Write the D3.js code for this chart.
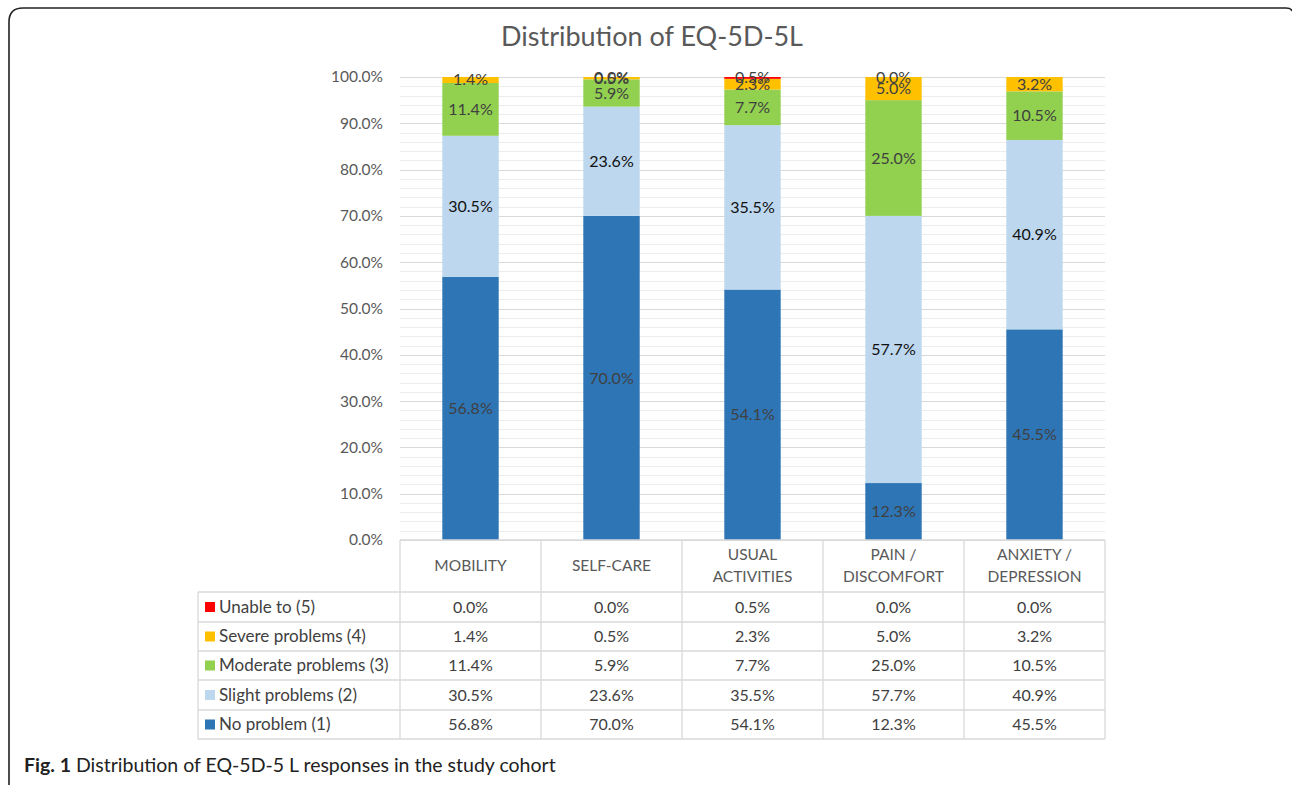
<!DOCTYPE html>
<html>
<head>
<meta charset="utf-8">
<script src="https://cdn.jsdelivr.net/npm/d3@7"></script>
<style>
  body { margin: 0; background: #fff; }
  svg { display: block; font-family: Lato, "Open Sans", sans-serif; }
</style>
</head>
<body>
<div id="chart-area"></div>
<script>
var W = 1292, H = 785;

// data (percent)
var dimensions = ["MOBILITY", "SELF-CARE", "USUAL ACTIVITIES", "PAIN / DISCOMFORT", "ANXIETY / DEPRESSION"];
var dimensionLines = [["MOBILITY"], ["SELF-CARE"], ["USUAL", "ACTIVITIES"], ["PAIN /", "DISCOMFORT"], ["ANXIETY /", "DEPRESSION"]];
var levels = ["No problem (1)", "Slight problems (2)", "Moderate problems (3)", "Severe problems (4)", "Unable to (5)"];
var levelColors = ["#2E75B6", "#BDD7EE", "#92D050", "#FFC000", "#FF0000"];
var labelColors = ["#404040", "#111111", "#404040", "#404040", "#404040"];
var noProblem = [56.8, 70.0, 54.1, 12.3, 45.5];
var slight = [30.5, 23.6, 35.5, 57.7, 40.9];
var moderate = [11.4, 5.9, 7.7, 25.0, 10.5];
var severe = [1.4, 0.5, 2.3, 5.0, 3.2];
var unable = [0.0, 0.0, 0.5, 0.0, 0.0];
var seriesValues = [noProblem, slight, moderate, severe, unable];
var yTicks = [0, 0.1, 0.2, 0.3, 0.4, 0.5, 0.6, 0.7, 0.8, 0.9, 1.0];
// the figure shows no "Unable to" label on these two bars
var hiddenUnableLabels = ["MOBILITY", "ANXIETY / DEPRESSION"];

var svg = d3.select("#chart-area")
    .append("svg")
        .attr("width", W)
        .attr("height", H);

// outer frame (open at the right/bottom, rounded corner top-left)
svg.append("path")
    .attr("d", "M9,785 L9,22 Q9,8 23,8 L1286,8 Q1291,8 1292,11")
    .attr("fill", "none")
    .attr("stroke", "#222")
    .attr("stroke-width", 1.6);

// scales
var x = d3.scaleBand()
    .domain(dimensions)
    .range([400, 1105]);
var y = d3.scaleLinear()
    .domain([0, 1])
    .range([540, 77]);
var barW = x.bandwidth() * 0.4;

// minor gridlines every 2%
var minor = d3.range(0, 1.0001, 0.02);
svg.append("g").selectAll("line")
    .data(minor)
    .enter().append("line")
        .attr("x1", 400).attr("x2", 1105)
        .attr("y1", function(d){ return Math.round(y(d)) + 0.5; })
        .attr("y2", function(d){ return Math.round(y(d)) + 0.5; })
        .attr("stroke", "#ececec")
        .attr("stroke-width", 1);

// major gridlines
svg.append("g").selectAll("line")
    .data(yTicks)
    .enter().append("line")
        .attr("x1", 400).attr("x2", 1105)
        .attr("y1", function(d){ return Math.round(y(d)) + 0.5; })
        .attr("y2", function(d){ return Math.round(y(d)) + 0.5; })
        .attr("stroke", "#d9d9d9")
        .attr("stroke-width", 1);

// y axis
var yAxisCall = d3.axisLeft(y)
    .tickValues(yTicks)
    .tickSize(0)
    .tickPadding(0)
    .tickFormat(d3.format(".1%"));
var yAxis = svg.append("g")
    .attr("transform", "translate(383,0)")
    .call(yAxisCall);
yAxis.select(".domain").remove();
yAxis.selectAll("text")
    .attr("font-size", "15.5px")
    .attr("font-family", "Lato, sans-serif")
    .attr("fill", "#595959");

// stacked bars
var table = dimensions.map(function(dim, i){
    var row = { dim: dim };
    levels.forEach(function(lv, j){ row[lv] = seriesValues[j][i] / 100; });
    return row;
});
var stacked = d3.stack().keys(levels)(table);

var layers = svg.append("g").selectAll("g")
    .data(stacked)
    .enter().append("g")
        .attr("fill", function(d, i){ return levelColors[i]; });

layers.selectAll("rect")
    .data(function(d){ return d; })
    .enter().append("rect")
        .attr("x", function(d){ return x(d.data.dim) + (x.bandwidth() - barW) / 2; })
        .attr("width", barW)
        .attr("y", function(d){ return y(Math.min(d[1], 1)); })
        .attr("height", function(d){ return Math.max(0, y(d[0]) - y(Math.min(d[1], 1))); });

// data labels
stacked.forEach(function(layer, i){
    var pts = layer.filter(function(d){
        return !(i == 4 && hiddenUnableLabels.indexOf(d.data.dim) >= 0);
    });
    svg.append("g").selectAll("text")
        .data(pts)
        .enter().append("text")
            .attr("x", function(d){ return x(d.data.dim) + x.bandwidth() / 2; })
            .attr("y", function(d){ return y(Math.min((d[0] + d[1]) / 2, 1)); })
            .attr("dy", "0.35em")
            .attr("text-anchor", "middle")
            .attr("font-size", "16px")
            .attr("fill", labelColors[i])
            .text(function(d){ return d3.format(".1f")(d.data[levels[i]] * 100) + "%"; });
});

// data table under the chart
var rowTops = [540, 592, 622, 651, 680, 710, 739];
var colEdges = [400].concat(dimensions.map(function(d){ return x(d) + x.bandwidth(); }));
var grid = svg.append("g")
    .attr("stroke", "#d9d9d9")
    .attr("stroke-width", 1.3);

// horizontal rules
rowTops.forEach(function(ry, i){
    grid.append("line")
        .attr("x1", i == 0 ? 400 : 198).attr("x2", 1105)
        .attr("y1", ry).attr("y2", ry);
});
// vertical rules
colEdges.forEach(function(cx){
    grid.append("line")
        .attr("x1", cx).attr("x2", cx)
        .attr("y1", 540).attr("y2", 739);
});
grid.append("line")
    .attr("x1", 198).attr("x2", 198)
    .attr("y1", 592).attr("y2", 739);

// header labels
dimensionLines.forEach(function(lines, i){
    var cx = x(dimensions[i]) + x.bandwidth() / 2;
    var t = svg.append("text")
        .attr("text-anchor", "middle")
        .attr("font-size", "15.5px")
        .attr("fill", "#595959");
    var y0 = lines.length == 1 ? 566 : 555;
    lines.forEach(function(s, k){
        t.append("tspan")
            .attr("x", cx)
            .attr("y", y0 + k * 22)
            .attr("dy", "0.35em")
            .text(s);
    });
});

// table rows (top row = highest level)
var tableOrder = [4, 3, 2, 1, 0];
tableOrder.forEach(function(li, r){
    var cy = (rowTops[r + 1] + rowTops[r + 2]) / 2;
    svg.append("rect")
        .attr("x", 205).attr("y", cy - 5)
        .attr("width", 10).attr("height", 10)
        .attr("fill", levelColors[li]);
    svg.append("text")
        .attr("x", 219).attr("y", cy)
        .attr("dy", "0.35em")
        .attr("font-size", "17px")
        .attr("fill", "#404040")
        .text(levels[li]);
    dimensions.forEach(function(dim, i){
        svg.append("text")
            .attr("x", x(dim) + x.bandwidth() / 2)
            .attr("y", cy)
            .attr("dy", "0.35em")
            .attr("text-anchor", "middle")
            .attr("font-size", "16px")
            .attr("fill", "#404040")
            .text(d3.format(".1f")(seriesValues[li][i]) + "%");
    });
});

// title
svg.append("text")
    .attr("x", 652)
    .attr("y", 37)
    .attr("dy", "0.35em")
    .attr("text-anchor", "middle")
    .attr("font-size", "27px")
    .attr("fill", "#595959")
    .text("Distribution of EQ-5D-5L");

// caption
var cap = svg.append("text")
    .attr("x", 24)
    .attr("y", 772)
    .attr("font-size", "19.5px")
    .attr("fill", "#222");
cap.append("tspan")
    .attr("font-weight", "bold")
    .text("Fig. 1");
cap.append("tspan")
    .text(" Distribution of EQ-5D-5 L responses in the study cohort");
</script>
</body>
</html>
